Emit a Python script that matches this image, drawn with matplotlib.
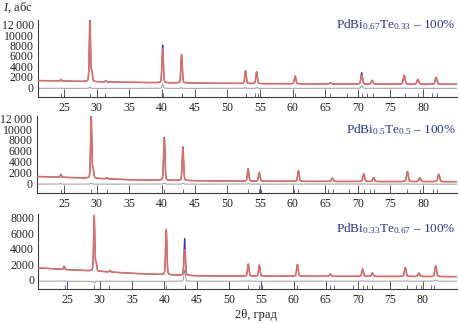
import numpy as np
import matplotlib
matplotlib.use("Agg")
import matplotlib.pyplot as plt

plt.rcParams.update({
    "font.family": ["Liberation Serif", "DejaVu Serif"],
    "mathtext.fontset": "custom",
    "mathtext.rm": "Liberation Serif",
    "mathtext.it": "Liberation Serif:italic",
    "font.size": 9,
})

# ---- sample names ----
labels = [
    "PdBi$_{0.67}$Te$_{0.33}$ – 100%",
    "PdBi$_{0.5}$Te$_{0.5}$ – 100%",
    "PdBi$_{0.33}$Te$_{0.67}$ – 100%",
]

# ---- background knots (2θ, intensity) ----
bg_x = [21, 25, 30, 35, 40, 45, 50, 55, 60, 65, 70, 75, 80, 85]
bg1 = [1250, 1150, 1000, 900, 820, 760, 700, 650, 620, 590, 570, 550, 540, 530]
bg2 = [1250, 1100, 900, 650, 560, 480, 420, 380, 360, 340, 330, 320, 310, 300]
bg3 = [1520, 1320, 1100, 850, 680, 540, 500, 490, 480, 470, 460, 450, 440, 430]

# ---- reflections: position, calculated height, observed height ----
pos1 = [24.5, 28.95, 29.25, 31.4, 40.1, 43.0, 52.8, 54.5, 60.4, 65.8, 70.6, 72.2, 77.1, 79.2, 82.0]
calc1 = [250, 11700, 1800, 250, 6500, 5400, 2400, 2200, 1500, 250, 1700, 700, 1700, 900, 1300]
obs1 = [300, 11900, 1800, 250, 7300, 5500, 2500, 2300, 1500, 250, 2200, 750, 1750, 950, 1300]

pos2 = [24.5, 29.15, 29.45, 31.5, 40.35, 43.2, 53.2, 54.9, 60.9, 66.1, 70.9, 72.4, 77.6, 79.5, 82.4]
calc2 = [450, 11100, 1500, 200, 7700, 6000, 2200, 1600, 2000, 600, 1400, 700, 1800, 700, 1350]
obs2 = [550, 11300, 1500, 200, 7900, 6200, 2300, 1600, 2000, 600, 1450, 700, 1850, 700, 1350]

pos3 = [24.5, 29.15, 29.45, 31.6, 40.3, 43.15, 53.0, 54.7, 60.6, 65.7, 70.7, 72.2, 77.3, 79.4, 82.0]
calc3 = [350, 7100, 1000, 200, 5800, 3300, 1500, 1400, 1500, 280, 900, 450, 1100, 450, 1200]
obs3 = [400, 6900, 1000, 200, 5700, 4700, 1550, 1400, 1500, 300, 950, 450, 1150, 450, 1350]

# ---- Bragg reflection markers ----
bragg1 = [24.5, 28.9, 31.3, 40.1, 43.0, 52.8, 54.3, 54.7, 60.4, 65.8, 68.3, 70.6,
          71.4, 72.3, 77.3, 79.3, 81.3, 82.1]
bragg2 = [24.5, 29.1, 31.5, 40.3, 43.2, 53.2, 54.8, 55.2, 60.3, 60.9, 65.4, 66.2,
          68.6, 70.9, 71.9, 72.5, 77.6, 79.5, 81.5, 82.2]
bragg3 = [24.6, 29.1, 31.5, 40.2, 43.2, 53.0, 54.7, 55.1, 60.6, 65.7, 66.3, 69.2,
          70.8, 71.4, 72.1, 77.6, 79.0, 79.7, 81.2, 81.7]

# ---- axis settings ----
xlims = [(21.0, 85.2), (20.8, 85.2), (20.5, 85.3)]
ylims = [(-1934, 12960), (-1790, 12420), (-1150, 8430)]
yticks = [
    [0, 2000, 4000, 6000, 8000, 10000, 12000],
    [0, 2000, 4000, 6000, 8000, 10000, 12000],
    [0, 2000, 4000, 6000, 8000],
]
ytick_labels = [
    ["0", "2000", "4000", "6000", "8000", "10000", "12\u2009000"],
    ["0", "2000", "4000", "6000", "8000", "10000", "12\u2009000"],
    ["0", "2000", "4000", "6000", "8000"],
]
xticks = [25, 30, 35, 40, 45, 50, 55, 60, 65, 70, 75, 80]
diff_offset = [-250, -150, -150]

W, H = 459, 323
axes_px = [  # left, right, top, bottom in pixels
    (38.0, 457, 20, 97),
    (36.7, 457, 116, 193),
    (38.3, 457, 214, 289),
]

C_CALC = "#f3705a"
C_OBS = "#3b3b9e"
C_DIFF = "#8a8a8a"
C_TEXT = "#2e3192"
C_AX = "#3a3a3a"
C_TICK = "#555555"

tth = np.arange(20.0, 86.0, 0.01)


def profile(x, centers, heights, bgx, bgy):
    y = np.interp(x, bgx, bgy)
    for c, h in zip(centers, heights):
        w = 0.2 + 0.002 * (c - 20)
        g = np.exp(-4 * np.log(2) * ((x - c) / w) ** 2)
        l = 1.0 / (1 + 4 * ((x - c) / w) ** 2)
        y = y + h * (0.75 * g + 0.25 * l)
    return y


fig = plt.figure(figsize=(W / 100, H / 100), dpi=100)

panels = [
    (pos1, calc1, obs1, bg1, bragg1),
    (pos2, calc2, obs2, bg2, bragg2),
    (pos3, calc3, obs3, bg3, bragg3),
]

for i, (pos, calc, obs, bg, bragg) in enumerate(panels):
    l, r, t, b = axes_px[i]
    ax = fig.add_axes([l / W, 1 - b / H, (r - l) / W, (b - t) / H])
    y_calc = profile(tth, pos, calc, bg_x, bg)
    y_obs = profile(tth, pos, obs, bg_x, bg)
    y_diff = y_obs - y_calc + diff_offset[i]

    ax.plot(tth, y_obs, color=C_OBS, lw=0.9, zorder=2)
    ax.plot(tth, y_calc, color=C_CALC, lw=1.1, alpha=0.9, zorder=3)
    ax.plot(tth, y_diff, color=C_DIFF, lw=0.6, zorder=2)
    ax.vlines(bragg, 0, 0.055, transform=ax.get_xaxis_transform(),
              color=C_OBS, lw=0.7, alpha=0.8, zorder=4)

    ax.set_xlim(*xlims[i])
    ax.set_ylim(*ylims[i])
    ax.set_xticks(xticks)
    ax.set_yticks(yticks[i])
    ax.set_yticklabels(ytick_labels[i])
    ax.tick_params(axis="x", direction="in", length=5.5, width=0.7,
                   color=C_TICK, pad=3.5, labelsize=8.5, labelcolor="#222222")
    ax.tick_params(axis="y", length=0, pad=3, labelsize=8.5,
                   labelcolor="#222222")
    for s in ("top", "right"):
        ax.spines[s].set_visible(False)
    for s in ("left", "bottom"):
        ax.spines[s].set_color(C_AX)
        ax.spines[s].set_linewidth(0.8)

label_y = [25, 130, 229]
for i, txt in enumerate(labels):
    fig.text(456 / W, 1 - label_y[i] / H, txt, ha="right", va="center",
             color=C_TEXT, fontsize=9.5)

fig.text(3 / W, 1 - 8 / H, "$I$, абс", ha="left", va="center",
         fontsize=9, color="#222222")
fig.text(256 / W, 1 - 315 / H, "2θ, град", ha="center", va="center",
         fontsize=9, color="#222222")

fig.savefig("out.png", dpi=100)
